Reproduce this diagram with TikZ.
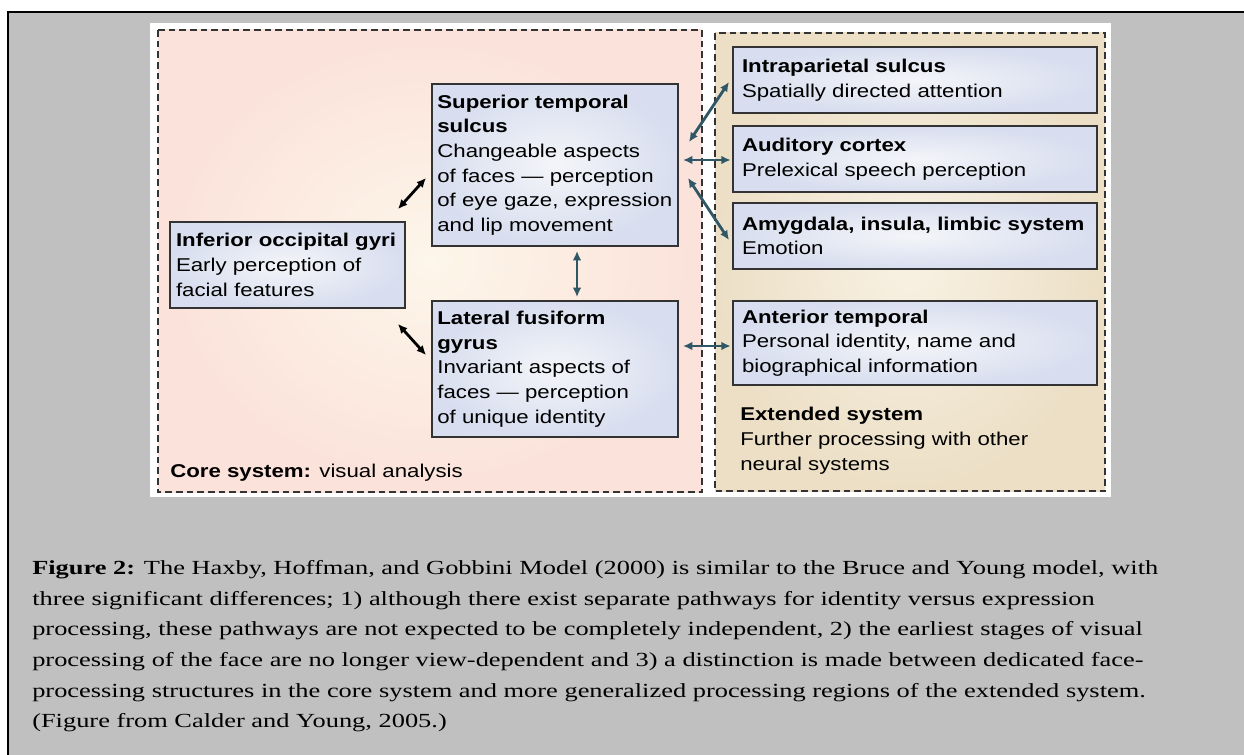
\documentclass[tikz,border=0pt]{standalone}
\usepackage{fontspec}
\setmainfont{Liberation Serif}[FakeStretch=1.32]
\newfontfamily\diagfont{Liberation Sans}[FakeStretch=1.2]
\usetikzlibrary{arrows.meta}
\definecolor{pagegrey}{HTML}{C0C0C0}
\definecolor{boxline}{HTML}{333333}
\definecolor{corein}{HTML}{FDF6EA}
\definecolor{coreout}{HTML}{FBE2DA}
\definecolor{extin}{HTML}{F8F1E3}
\definecolor{extout}{HTML}{ECDFC6}
\definecolor{nodein}{HTML}{F4F5F9}
\definecolor{nodeout}{HTML}{D8DEEF}
\definecolor{linkteal}{HTML}{2F5766}
\newcommand\diagtext{\diagfont\fontsize{13.9}{18.5}\selectfont\hyphenpenalty=10000\relax}

\begin{document}
\begin{tikzpicture}[x=0.75pt,y=-0.75pt,
	region/.style={draw=boxline, line width=1.5pt, inner color=nodein, outer color=nodeout,
		align=left, inner xsep=6.75pt, inner ysep=0pt, font=\diagtext},
	system/.style={draw=boxline, line width=1.1pt, dash pattern=on 5pt off 3pt},
	label/.style={inner sep=0pt, align=left, font=\diagtext},
	link/.style={line width=2.1pt, {Latex[length=7pt,width=6.5pt]}-{Latex[length=7pt,width=6.5pt]}},
	teal link/.style={link, draw=linkteal}]
		\useasboundingbox (0,0) rectangle (1244,755);
		\fill[white] (0,0) rectangle (1244,755);
		\fill[pagegrey] (8,12) rectangle (1244,755);
		\draw[line width=2pt] (8,755) -- (8,12) -- (1244,12);
		\fill[white] (150,23) rectangle (1111,497);
		\shade[inner color=corein, outer color=coreout] (158,30) rectangle (702,492);
		\draw[system] (158,30) rectangle (702,492);
		\shade[inner color=extin, outer color=extout] (715,33) rectangle (1105,491);
		\draw[system] (715,33) rectangle (1105,491);
		\node[region, inner xsep=4.5pt, text width=167.25pt, minimum height=64.5pt] (IOG) at (287.5,265)
			{\textbf{Inferior occipital gyri}\\Early perception of\\facial features};
		\node[region, inner xsep=4pt, text width=176.5pt, minimum height=121.5pt] (STS) at (555,165)
			{\textbf{Superior temporal}\\\textbf{sulcus}\\Changeable aspects\\of faces — perception\\\mbox{of eye gaze, expression}\\and lip movement};
		\node[region, inner xsep=4pt, text width=176.5pt, minimum height=102pt] (LFG) at (555,369)
			{\textbf{Lateral fusiform}\\\textbf{gyrus}\\Invariant aspects of\\faces — perception\\of unique identity};
		\node[region, text width=259.5pt, minimum height=49.5pt] (IPS) at (915,80)
			{\textbf{Intraparietal sulcus}\\Spatially directed attention};
		\node[region, text width=259.5pt, minimum height=49.5pt] (AC) at (915,159)
			{\textbf{Auditory cortex}\\Prelexical speech perception};
		\node[region, text width=259.5pt, minimum height=49.5pt] (AM) at (915,236)
			{\textbf{Amygdala, insula, limbic system}\\Emotion};
		\node[region, text width=259.5pt, minimum height=63pt] (AT) at (915,343)
			{\textbf{Anterior temporal}\\Personal identity, name and\\biographical information};
		\node[label, anchor=north west] (EXT) at (740,407)
			{\textbf{Extended system}\\Further processing with other\\neural systems};
		\node[label, anchor=base west] (CORE) at (170,477) {\textbf{Core system:} visual analysis};
		\draw[link] ([xshift=-6pt,yshift=9pt]IOG.north east) -- ([xshift=-3.75pt,yshift=-9.75pt]STS.west);
		\draw[link] ([xshift=-6pt,yshift=-11.25pt]IOG.south east) -- ([xshift=-3.75pt,yshift=10.5pt]LFG.west);
		\draw[teal link] ([xshift=16.5pt,yshift=-3pt]STS.south) -- ([xshift=16.5pt,yshift=2.25pt]LFG.north);
		\draw[teal link] ([xshift=7.5pt,yshift=17.25pt]STS.east) -- ([xshift=-2.25pt,yshift=-1.5pt]IPS.west);
		\draw[teal link] ([xshift=3pt,yshift=3.75pt]STS.east) -- ([xshift=-1pt,yshift=-0.75pt]AC.west);
		\draw[teal link] ([xshift=6.75pt,yshift=-9.75pt]STS.east) -- ([xshift=-2.25pt,yshift=-3pt]AM.west);
		\draw[teal link] ([xshift=3pt,yshift=17.25pt]LFG.east) -- ([xshift=-1pt,yshift=-2.25pt]AT.west);
		\node[inner sep=0pt, anchor=north west, align=left, font=\fontsize{15}{23}\selectfont] (CAP) at (32,560)
			{\textbf{Figure 2:} The Haxby, Hoffman, and Gobbini Model (2000) is similar to the Bruce and Young model, with\\
			three significant differences; 1) although there exist separate pathways for identity versus expression\\
			processing, these pathways are not expected to be completely independent, 2) the earliest stages of visual\\
			processing of the face are no longer view-dependent and 3) a distinction is made between dedicated face-\\
			processing structures in the core system and more generalized processing regions of the extended system.\\
			(Figure from Calder and Young, 2005.)};
	\end{tikzpicture}
\end{document}
